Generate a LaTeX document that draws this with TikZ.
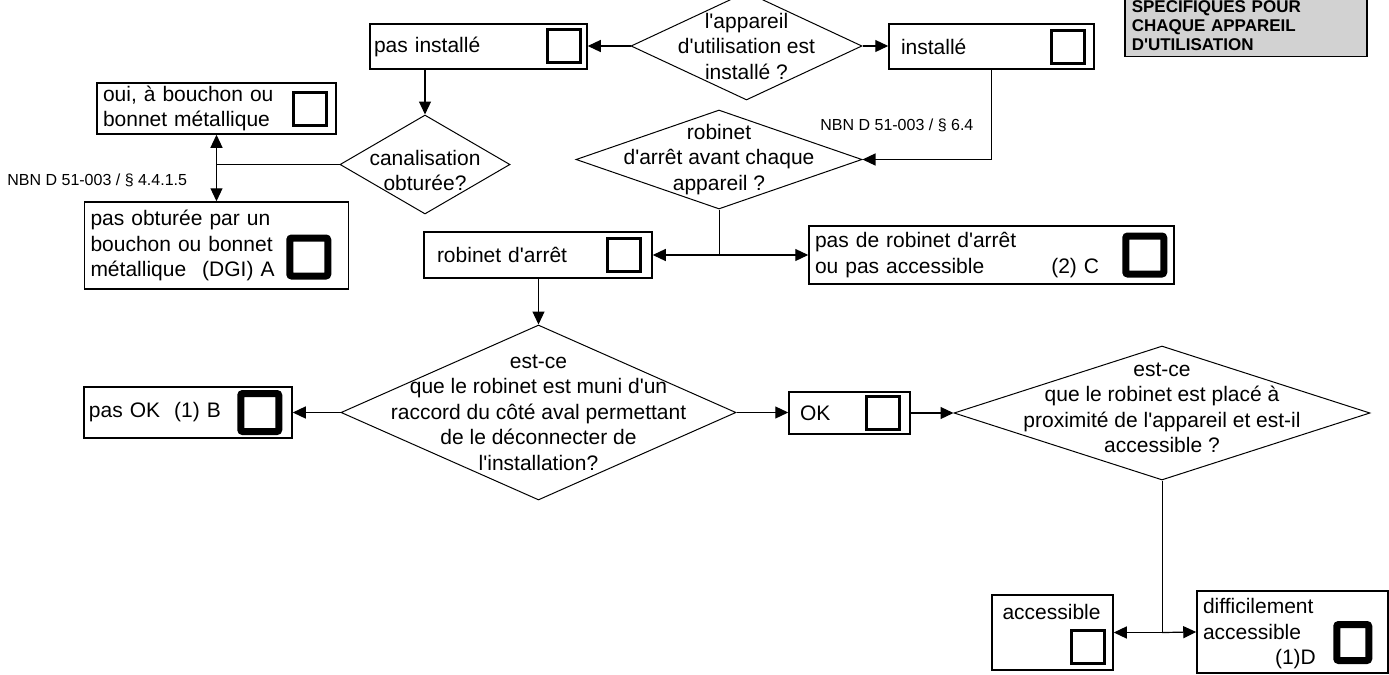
\documentclass[tikz,border=0pt]{standalone}
\usepackage{fontspec}
\setmainfont{Liberation Sans}[Ligatures=TeXOff]
\usetikzlibrary{shapes.geometric,positioning,arrows.meta}

\begin{document}
\begin{tikzpicture}[x=0.5pt,y=-0.5pt,every node/.style={inner sep=0pt},font=\fontsize{10.5}{12.75}\selectfont]
	\tikzset{boite/.style={draw,line width=0.75pt,rectangle,align=left}}
	\tikzset{losange/.style={draw,line width=0.5pt,diamond}}
	\tikzset{case/.style={draw,line width=1.5pt,minimum width=16.5pt,minimum height=16.5pt}}
	\tikzset{casex/.style={draw,line width=3.5pt,rounded corners=1pt,minimum width=19pt,minimum height=19pt}}
	\tikzset{fleche/.style={-{Triangle[length=6.5pt,width=6pt]},line width=0.6pt}}
	\tikzset{ref/.style={font=\fontsize{8}{9}\selectfont,anchor=west}}
	\useasboundingbox (0,0) rectangle (1389,675);
	\node (titre) [draw,line width=0.75pt,fill=gray!35,anchor=south west,align=left,text width=114pt,inner xsep=3.5pt,inner ysep=3pt,text height=20pt,font=\fontsize{8.5}{9.5}\selectfont\bfseries] at (1124,57) {SPÉCIFIQUES POUR\\CHAQUE APPAREIL\\D'UTILISATION};
	\node (pi) [boite,inner xsep=2pt,text width=104.5pt,minimum height=22.5pt] at (478.5,46.5) {pas installé};
	\node (inst) [boite,inner xsep=6pt,text width=90.5pt,minimum height=22.5pt] at (991.5,46.5) {installé};
	\node (oui) [boite,inner xsep=3pt,text width=113.5pt,minimum height=25.5pt] at (216.5,108.5) {oui, à bouchon ou\\bonnet métallique};
	\node (po) [boite,inner xsep=3pt,text width=126pt,minimum height=43.5pt] at (216.5,245.5) {pas obturée par un\\bouchon ou bonnet\\métallique\hspace{8pt}(DGI) A};
	\node (ra) [boite,inner xsep=6.5pt,text width=101pt,minimum height=23pt] at (538,255) {robinet d'arrêt};
	\node (pr) [boite,inner xsep=3pt,text width=176.5pt,minimum height=29pt] at (991.5,255) {pas de robinet d'arrêt\\ou pas accessible\hspace{33.5pt}(2) C};
	\node (pok) [boite,inner xsep=2.5pt,text width=99pt,minimum height=25.5pt] at (188,412.5) {pas OK~~(1) B};
	\node (ok) [boite,inner xsep=5.5pt,text width=49.5pt,minimum height=21pt] at (849.5,413) {OK};
	\node (acc) [boite,inner xsep=5.25pt,text width=50pt,text height=12pt,text depth=25.5pt] at (1052.5,632.5) {accessible};
	\node (diff) [boite,inner xsep=3pt,text width=89.5pt,minimum height=41pt,text depth=26pt] at (1292.5,632) {difficilement\\accessible\\\hspace*{36pt}(1)D};
	\node (cpi) [case,left=2.75pt of pi.east,yshift=0.5pt] {};
	\node (cinst) [case,left=4.25pt of inst.east] {};
	\node (coui) [case,left=4.25pt of oui.east] {};
	\node (cpo) [casex,left=9pt of po.east,yshift=-5.75pt] {};
	\node (cra) [case,left=5.25pt of ra.east] {};
	\node (cpr) [casex,left=3.75pt of pr.east] {};
	\node (cpok) [casex,left=5.25pt of pok.east] {};
	\node (cok) [case,left=4.75pt of ok.east] {};
	\node (cacc) [case,left=3.75pt of acc.east,yshift=-7.25pt] {};
	\node (cdiff) [casex,minimum width=16pt,minimum height=18pt,left=8.25pt of diff.east,yshift=-5.25pt] {};
	\node (q1) [losange,minimum width=115.5pt,minimum height=54pt] at (746.5,46) {};
	\node (tq1) [align=center] at (q1) {l'appareil\\d'utilisation est\\installé ?};
	\node (q2) [losange,minimum width=85pt,minimum height=49.5pt] at (425,164.5) {};
	\node (tq2) [align=center,yshift=-3pt] at (q2) {canalisation\\obturée?};
	\node (q3) [losange,minimum width=143pt,minimum height=49.5pt] at (719,159.5) {};
	\node (tq3) [align=center] at (q3) {robinet\\d'arrêt avant chaque\\appareil ?};
	\node (q4) [losange,minimum width=197.5pt,minimum height=87.5pt] at (538.5,412.5) {};
	\node (tq4) [align=center] at (q4) {est-ce\\que le robinet est muni d'un\\raccord du côté aval permettant\\de le déconnecter de\\l'installation?};
	\node (q5) [losange,minimum width=208pt,minimum height=67pt] at (1162,413) {};
	\node (tq5) [align=center,yshift=2.5pt] at (q5) {est-ce\\que le robinet est placé à\\proximité de l'appareil et est-il\\accessible ?};
	\node (ref1) [ref] at (7,180) {NBN D 51-003 / § 4.4.1.5};
	\node (ref2) [ref] at (820,125) {NBN D 51-003 / § 6.4};
	\draw[fleche] (q1.west) -- (q1.west -| pi.east);
	\draw[fleche] (q1.east) -- (q1.east -| inst.west);
	\draw[fleche] (q2.north |- pi.south) -- (q2.north);
	\draw (q2.west) -- (q2.west -| oui.south) coordinate (j1);
	\draw[fleche] (j1) -- (oui.south);
	\draw[fleche] (j1) -- (po.north);
	\draw[fleche] (inst.south) |- (q3.east);
	\draw (q3.south) -- (q3.south |- ra.east) coordinate (j2);
	\draw[fleche] (j2) -- (ra.east);
	\draw[fleche] (j2) -- (pr.west);
	\draw[fleche] (q4.north |- ra.south) -- (q4.north);
	\draw[fleche] (q4.west) -- (q4.west -| pok.east);
	\draw[fleche] (q4.east) -- (q4.east -| ok.west);
	\draw[fleche] (ok.east) -- (ok.east -| q5.west);
	\draw (q5.south) -- (q5.south |- acc.east) coordinate (j3);
	\draw[fleche] (j3) -- (acc.east);
	\draw[fleche] (j3) -- (diff.west);
\end{tikzpicture}
\end{document}
